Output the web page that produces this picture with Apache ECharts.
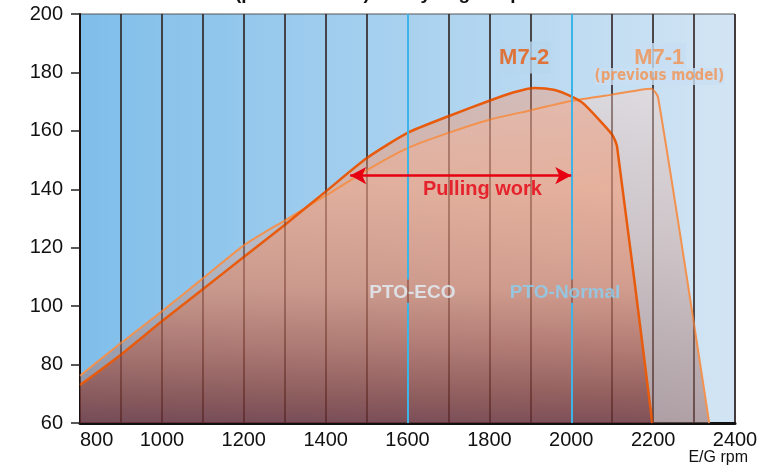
<!DOCTYPE html>
<html>
<head>
<meta charset="utf-8">
<script src="https://cdn.jsdelivr.net/npm/echarts@6/dist/echarts.min.js"></script>
<style>
html,body{margin:0;padding:0;background:#fff;}
#chart{width:767px;height:469px;}
</style>
</head>
<body>
<div id="chart"></div>
<script>
// M7-2 curve (engine rpm / output)
var rpmM72 = [800, 900, 1000, 1100, 1200, 1300, 1400, 1500, 1600, 1700, 1800, 1860, 1910, 1960, 2000, 2030, 2100, 2112, 2198];
var kwM72  = [73.0, 83.4, 94.8, 105.8, 116.8, 127.8, 139.2, 150.6, 159.3, 165.0, 170.3, 173.2, 174.7, 174.0, 171.8, 169.3, 158.7, 154.5, 60];

// M7-1 curve (previous model)
var rpmM71 = [800, 900, 1000, 1100, 1200, 1250, 1300, 1400, 1500, 1600, 1700, 1800, 1900, 2000, 2100, 2195, 2212, 2337];
var kwM71  = [76.2, 87.4, 98.2, 109.5, 120.8, 125.2, 129.3, 137.8, 146.5, 154.1, 159.3, 163.8, 167.0, 170.2, 172.4, 174.4, 171.5, 60];

// axis ticks
var xTicks = [800, 1000, 1200, 1400, 1600, 1800, 2000, 2200, 2400];
var yTicks = [60, 80, 100, 120, 140, 160, 180, 200];

// PTO marker lines and the pulling work range
var ptoRpm = [1600, 2000];
var ptoGap = [101.2, 109.1];
var pullRange = [1460, 2000];
var pullLevel = 144.7;

// text notes: text, rpm, value
var noteText = ['M7-2', 'M7-1', '(previous model)', 'Pulling work', 'PTO-ECO', 'PTO-Normal'];
var noteRpm  = [1885, 2215, 2215, 1783, 1612, 1985];
var noteVal  = [185.1, 185.1, 178.6, 140.0, 104.6, 104.6];

var chart = echarts.init(document.getElementById('chart'));

function pairs(xs, ys){
	var out = [];
	for(var i=0;i<xs.length;i++){ out.push([xs[i], ys[i]]); }
	return out;
}

var noteStyles = [
	{color:'#e85a0c', fontSize:22, fontWeight:'bold', backgroundColor:'#b7d6ef', padding:[5,2]},
	{color:'#f3914f', fontSize:22, fontWeight:'bold', backgroundColor:'#c7ddf2', padding:[5,2,2,2]},
	{color:'#f3914f', fontSize:15, fontWeight:'bold', fontFamily:'DejaVu Sans Condensed', backgroundColor:'#c9dff2', padding:[0,0,2,0]},
	{color:'#e60012', fontSize:20, fontWeight:'bold'},
	{color:'#e2f1fa', fontSize:19, fontWeight:'bold'},
	{color:'#8ad0f2', fontSize:19, fontWeight:'bold'}
];
var notes = [];
for(var i=0;i<noteText.length;i++){
	notes.push({
		name: noteText[i],
		value: [noteRpm[i], noteVal[i]],
		label: Object.assign({show:true, position:'inside', formatter:'{b}', fontFamily:'Liberation Sans'}, noteStyles[i])
	});
}

// blue PTO lines, broken where the text sits
var ptoLines = [];
ptoRpm.forEach(function(r){
	ptoLines.push([{coord:[r, yTicks[0]]}, {coord:[r, ptoGap[0]]}]);
	ptoLines.push([{coord:[r, ptoGap[1]]}, {coord:[r, yTicks[yTicks.length-1]]}]);
});

var option = {
	animation:false,
	title:{
		text:'(power at PTO) kW by engine rpm',
		left:230, top:-21,
		textStyle:{fontSize:19, fontWeight:'bold', color:'#111', fontFamily:'Liberation Sans'}
	},
	grid:{
		left:80, right:32, top:14, bottom:46,
		show:true,
		borderColor:'#555', borderWidth:1,
		backgroundColor:new echarts.graphic.LinearGradient(0,0,1,0,[
			{offset:0, color:'#7fbeea'},
			{offset:1, color:'#d3e5f4'}
		])
	},
	xAxis:[{
		type:'value',
		min:xTicks[0], max:xTicks[xTicks.length-1], interval:100,
		name:'E/G rpm', nameLocation:'end', nameGap:13,
		nameTextStyle:{align:'right', verticalAlign:'top', padding:[27,0,0,0], fontSize:16, color:'#111', fontFamily:'Liberation Sans'},
		axisLine:{show:true, lineStyle:{color:'#111', width:3}},
		axisTick:{show:false},
		axisLabel:{
			margin:7, fontSize:20, color:'#111', fontFamily:'Liberation Sans',
			alignMinLabel:'left',
			formatter:function(v){ return xTicks.indexOf(v) >= 0 ? String(v) : ''; }
		},
		splitLine:{show:true, lineStyle:{color:'#2b2b2b', width:1.5}}
	},{
		// darker lines seen through the filled areas
		type:'value', gridIndex:0, z:5,
		min:xTicks[0], max:xTicks[xTicks.length-1], interval:100,
		axisLine:{show:false}, axisTick:{show:false}, axisLabel:{show:false},
		splitLine:{show:true, lineStyle:{color:'rgba(60,15,10,0.3)', width:1.5}}
	}],
	yAxis:{
		type:'value',
		min:yTicks[0], max:yTicks[yTicks.length-1], interval:20,
		axisLine:{show:true, lineStyle:{color:'#111', width:2}},
		axisTick:{show:true, length:9, lineStyle:{color:'#222', width:1.5}},
		axisLabel:{margin:17, fontSize:20, color:'#111', fontFamily:'Liberation Sans'},
		splitLine:{show:false}
	},
	series:[{
		name:'M7-1',
		type:'line',
		data:pairs(rpmM71, kwM71),
		smooth:0.2,
		symbol:'none',
		lineStyle:{color:'#f3914f', width:2},
		areaStyle:{
			origin:'start',
			color:new echarts.graphic.LinearGradient(0,0,0,1,[
				{offset:0, color:'rgba(238,214,208,0.82)'},
				{offset:0.5, color:'rgba(205,170,162,0.8)'},
				{offset:1, color:'rgba(150,105,100,0.78)'}
			])
		}
	},{
		name:'M7-2',
		type:'line',
		data:pairs(rpmM72, kwM72),
		smooth:0.2,
		symbol:'none',
		lineStyle:{color:'#e85a0c', width:2.5},
		areaStyle:{
			origin:'start',
			color:new echarts.graphic.LinearGradient(0,0,0,1,[
				{offset:0, color:'rgba(236,158,128,0.7)'},
				{offset:0.3, color:'rgba(242,162,128,0.9)'},
				{offset:0.6, color:'rgba(216,140,115,0.93)'},
				{offset:0.78, color:'rgba(175,98,84,0.95)'},
				{offset:0.92, color:'rgba(132,62,58,0.96)'},
				{offset:1, color:'rgba(105,42,52,0.96)'}
			])
		},
		markLine:{
			silent:true,
			symbol:['none','none'],
			label:{show:false},
			lineStyle:{color:'#3cb4e8', width:2, type:'solid'},
			data:ptoLines
		}
	},{
		name:'arrow',
		type:'line',
		data:[],
		markLine:{
			silent:true,
			symbol:['arrow','arrow'],
			symbolSize:[13,16],
			label:{show:false},
			lineStyle:{color:'#e60012', width:2.5, type:'solid'},
			data:[[{coord:[pullRange[0], pullLevel]}, {coord:[pullRange[1], pullLevel]}]]
		}
	},{
		name:'notes',
		type:'scatter',
		z:10,
		symbolSize:0,
		data:notes
	}]
};

chart.setOption(option);
</script>
</body>
</html>
